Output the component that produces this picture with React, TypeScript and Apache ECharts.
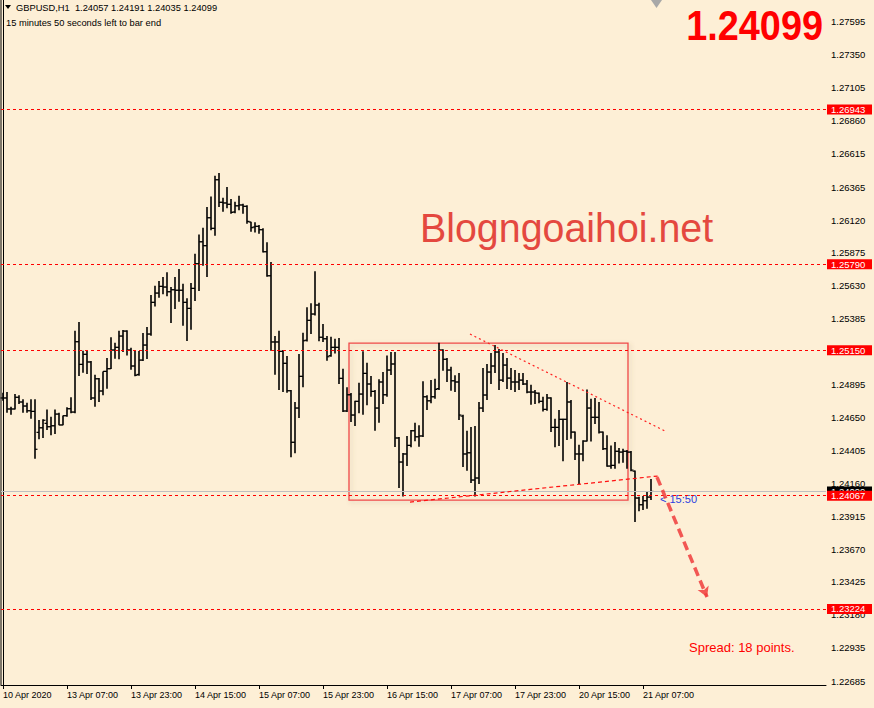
import React, { useEffect, useRef } from "react";
import * as echarts from "echarts";

const opens = [1.24795,1.24795,1.24713,1.24713,1.24800,1.24765,1.24735,1.24700,1.24695,1.24539,1.24573,1.24606,1.24581,1.24588,1.24675,1.24594,1.24663,1.24715,1.24690,1.25214,1.25045,1.25120,1.25063,1.24795,1.24938,1.24847,1.24993,1.25013,1.25152,1.25172,1.25256,1.25293,1.25152,1.25033,1.24970,1.25077,1.25189,1.25271,1.25507,1.25576,1.25626,1.25621,1.25586,1.25601,1.25597,1.25597,1.25507,1.25462,1.25611,1.25795,1.25958,1.25929,1.26137,1.26058,1.26420,1.26252,1.26247,1.26237,1.26180,1.26226,1.26232,1.26222,1.26105,1.26068,1.26073,1.26048,1.25884,1.25705,1.25212,1.25212,1.25142,1.25053,1.24849,1.24465,1.24720,1.24956,1.25225,1.25373,1.25420,1.25487,1.25247,1.25236,1.25110,1.25172,1.25172,1.24941,1.24698,1.24819,1.24668,1.24770,1.24824,1.24978,1.24899,1.24844,1.24720,1.24914,1.24819,1.25003,1.25048,1.24497,1.24318,1.24378,1.24442,1.24551,1.24506,1.24512,1.24804,1.24774,1.24804,1.24865,1.25152,1.25083,1.25003,1.24923,1.24914,1.24660,1.24378,1.24387,1.24184,1.24199,1.24720,1.24817,1.24988,1.25033,1.25137,1.24928,1.25040,1.24943,1.24914,1.24914,1.24928,1.24899,1.24839,1.24839,1.24830,1.24770,1.24710,1.24795,1.24576,1.24576,1.24636,1.24636,1.24765,1.24541,1.24378,1.24378,1.24474,1.24720,1.24651,1.24651,1.24541,1.24417,1.24288,1.24293,1.24398,1.24392,1.24398,1.24392,1.24250,1.24050,1.24000,1.24030,1.24057];
const highs = [1.24834,1.24839,1.24730,1.24824,1.24815,1.24785,1.24760,1.24785,1.24785,1.24631,1.24636,1.24710,1.24655,1.24710,1.24685,1.24665,1.24725,1.24800,1.25296,1.25360,1.25147,1.25152,1.25070,1.24968,1.24943,1.24993,1.25092,1.25247,1.25206,1.25296,1.25301,1.25300,1.25169,1.25145,1.25145,1.25279,1.25323,1.25562,1.25631,1.25666,1.25696,1.25731,1.25621,1.25696,1.25755,1.25646,1.25537,1.25651,1.25869,1.26013,1.26063,1.26217,1.26296,1.26450,1.26470,1.26286,1.26366,1.26276,1.26256,1.26301,1.26241,1.26230,1.26107,1.26103,1.26083,1.26058,1.25954,1.25807,1.25256,1.25296,1.25152,1.25107,1.24854,1.24765,1.25122,1.25281,1.25470,1.25500,1.25738,1.25504,1.25346,1.25256,1.25251,1.25236,1.25241,1.25013,1.24874,1.24832,1.24774,1.24908,1.25142,1.25057,1.24958,1.24854,1.24934,1.24988,1.25112,1.25137,1.25137,1.24504,1.24385,1.24512,1.24556,1.24611,1.24591,1.24919,1.24815,1.24928,1.24938,1.25206,1.25157,1.25092,1.25028,1.24964,1.24981,1.24670,1.24551,1.24579,1.24586,1.24765,1.25018,1.25048,1.25130,1.25189,1.25159,1.25130,1.25092,1.25018,1.25003,1.24981,1.24981,1.24928,1.24894,1.24854,1.24835,1.24804,1.24824,1.24800,1.24640,1.24705,1.24640,1.24914,1.24780,1.24545,1.24447,1.24480,1.24859,1.24789,1.24795,1.24765,1.24545,1.24517,1.24442,1.24467,1.24422,1.24417,1.24407,1.24400,1.24255,1.24060,1.24065,1.24095,1.24191];
const lows = [1.24774,1.24685,1.24670,1.24710,1.24750,1.24685,1.24685,1.24640,1.24343,1.24487,1.24497,1.24556,1.24517,1.24526,1.24591,1.24591,1.24655,1.24681,1.24681,1.24958,1.24983,1.24973,1.24780,1.24730,1.24765,1.24815,1.24864,1.25010,1.25087,1.25083,1.25137,1.25112,1.25005,1.24956,1.24960,1.25070,1.25085,1.25258,1.25477,1.25541,1.25567,1.25552,1.25353,1.25457,1.25512,1.25333,1.25219,1.25303,1.25517,1.25591,1.25780,1.25696,1.26043,1.26003,1.26217,1.26182,1.26207,1.26167,1.26170,1.26192,1.26167,1.26092,1.26033,1.26028,1.26018,1.25879,1.25698,1.25147,1.24968,1.24854,1.24839,1.24834,1.24353,1.24383,1.24646,1.24874,1.25215,1.25271,1.25410,1.25217,1.25212,1.25072,1.25102,1.25127,1.24899,1.24690,1.24690,1.24616,1.24586,1.24681,1.24670,1.24740,1.24804,1.24551,1.24611,1.24750,1.24804,1.24966,1.24430,1.24124,1.24061,1.24288,1.24428,1.24472,1.24432,1.24505,1.24705,1.24755,1.24789,1.24855,1.24998,1.24914,1.24849,1.24839,1.24631,1.24281,1.24253,1.24162,1.24061,1.24154,1.24690,1.24780,1.24899,1.24981,1.24854,1.24914,1.24862,1.24854,1.24839,1.24854,1.24891,1.24830,1.24745,1.24750,1.24755,1.24695,1.24700,1.24541,1.24428,1.24437,1.24323,1.24482,1.24492,1.24333,1.24154,1.24323,1.24470,1.24470,1.24601,1.24530,1.24407,1.24283,1.24268,1.24268,1.24308,1.24313,1.24268,1.24250,1.23871,1.23951,1.23961,1.23970,1.24035];
const closes = [1.24795,1.24713,1.24713,1.24800,1.24765,1.24735,1.24700,1.24695,1.24413,1.24573,1.24629,1.24581,1.24588,1.24675,1.24594,1.24663,1.24715,1.24690,1.25214,1.25045,1.25120,1.25063,1.24795,1.24938,1.24847,1.24993,1.25013,1.25152,1.25172,1.25256,1.25293,1.25152,1.25033,1.24964,1.25077,1.25189,1.25271,1.25507,1.25576,1.25626,1.25621,1.25586,1.25601,1.25597,1.25597,1.25507,1.25462,1.25611,1.25795,1.25958,1.25929,1.26137,1.26058,1.26420,1.26252,1.26247,1.26237,1.26177,1.26226,1.26232,1.26222,1.26110,1.26063,1.26073,1.26048,1.25884,1.25705,1.25212,1.25212,1.25142,1.25053,1.24849,1.24465,1.24720,1.24956,1.25221,1.25373,1.25420,1.25487,1.25247,1.25236,1.25102,1.25172,1.25172,1.24941,1.24698,1.24819,1.24668,1.24770,1.24824,1.24978,1.24899,1.24844,1.24720,1.24914,1.24819,1.25003,1.25048,1.24497,1.24318,1.24378,1.24442,1.24551,1.24506,1.24512,1.24804,1.24774,1.24804,1.24859,1.25152,1.25083,1.25003,1.24923,1.24914,1.24668,1.24378,1.24387,1.24184,1.24199,1.24720,1.24817,1.24988,1.25033,1.25137,1.24928,1.25040,1.24943,1.24914,1.24914,1.24928,1.24899,1.24839,1.24839,1.24832,1.24770,1.24710,1.24795,1.24576,1.24576,1.24636,1.24636,1.24765,1.24541,1.24378,1.24378,1.24474,1.24720,1.24651,1.24651,1.24541,1.24417,1.24288,1.24293,1.24398,1.24392,1.24398,1.24392,1.24258,1.24050,1.24000,1.24030,1.24057,1.24099];

const timeLabels = ["10 Apr 2020","13 Apr 07:00","13 Apr 23:00","14 Apr 15:00","15 Apr 07:00","15 Apr 23:00","16 Apr 15:00","17 Apr 07:00","17 Apr 23:00","20 Apr 15:00","21 Apr 07:00"];
const timeLabelIndex = [0,16,32,48,64,80,96,112,128,144,160];
const priceTicks = [1.27595,1.27350,1.27105,1.26860,1.26615,1.26365,1.26120,1.25875,1.25630,1.25385,1.25140,1.24895,1.24650,1.24405,1.24160,1.23915,1.23670,1.23425,1.23180,1.22935,1.22685];
const levels = [1.26943,1.25790,1.25150,1.24067,1.23224];
const bid = 1.24099;
// annotation anchors (bar index, price)
const boxCorners = [[86.5,1.25204],[156.25,1.24035]];
const upperTrend = [[116.75,1.25271],[165.5,1.24549]];
const lowerTrend = [[101.75,1.24020],[163.75,1.24214]];
const arrowPath = [[163.5,1.24206],[176,1.23313]];

const BG = "#fdefd6";
const FONT = "'Liberation Sans', Arial, sans-serif";
const Y_MIN = 1.226578;
const Y_MAX = 1.277583;
const X_MIN = -0.5;
const X_MAX = 205.75;

export default function App() {
  const ref = useRef<HTMLDivElement>(null);
  useEffect(() => {
    document.body.style.margin = "0";
    const chart = echarts.init(ref.current!, null, { renderer: "svg" });
    const data = opens.map((o, i) => [i, o, highs[i], lows[i], closes[i]]);
    const priceLabel = (bg: string, v: number) => ({
      show: true,
      position: "end",
      distance: 1,
      formatter: v.toFixed(5),
      color: "#fff",
      backgroundColor: bg,
      padding: [0, 4, 0, 4],
      fontSize: 9.5,
      lineHeight: 10,
      width: 37,
      fontFamily: FONT,
    });
    const hLine = (v: number, lineStyle: any, bg: string) => [
      { coord: [X_MIN, v], lineStyle, label: priceLabel(bg, v) },
      { coord: [X_MAX, v] },
    ];
    // short price-scale tick marks just right of the axis line
    const yTicks = priceTicks.map((v) => [
      { coord: [X_MAX, v], lineStyle: { color: "#000", type: "solid", width: 1 }, label: { show: false } },
      { coord: [X_MAX + 0.8, v] },
    ]);
    const option: any = {
      animation: false,
      backgroundColor: BG,
      grid: { left: 1, right: 48, top: 0, bottom: 23 },
      xAxis: {
        type: "value",
        min: X_MIN,
        max: X_MAX,
        splitLine: { show: false },
        axisLine: { show: true, onZero: false, lineStyle: { color: "#000", width: 1 } },
        axisTick: { show: true, customValues: timeLabelIndex, length: 4, lineStyle: { color: "#000" } },
        axisLabel: {
          customValues: timeLabelIndex,
          formatter: (v: number) => timeLabels[timeLabelIndex.indexOf(Math.round(v))] || "",
          align: "left",
          margin: 5,
          fontSize: 9,
          color: "#000",
          fontFamily: FONT,
        },
      },
      yAxis: {
        type: "value",
        position: "right",
        min: Y_MIN,
        max: Y_MAX,
        splitLine: { show: false },
        axisLine: { show: true, lineStyle: { color: "#000" } },
        axisTick: { show: false },
        axisLabel: {
          customValues: priceTicks,
          formatter: (v: number) => v.toFixed(5),
          margin: 5,
          fontSize: 9.5,
          color: "#000",
          fontFamily: FONT,
        },
      },
      series: [
        {
          type: "custom",
          data,
          encode: { x: 0, y: [1, 2, 3, 4] },
          renderItem: (params: any, api: any) => {
            const i = api.value(0);
            const po = api.coord([i, api.value(1)]);
            const yh = api.coord([i, api.value(2)])[1];
            const yl = api.coord([i, api.value(3)])[1];
            const yc = api.coord([i, api.value(4)])[1];
            const x = po[0];
            const yo = po[1];
            return {
              type: "group",
              children: [
                { type: "line", shape: { x1: x, y1: yh, x2: x, y2: yl }, style: { stroke: "#000", lineWidth: 1.6 } },
                { type: "line", shape: { x1: x - 2.5, y1: yo, x2: x, y2: yo }, style: { stroke: "#000", lineWidth: 1.2 } },
                { type: "line", shape: { x1: x, y1: yc, x2: x + 2.5, y2: yc }, style: { stroke: "#000", lineWidth: 1.2 } },
              ],
            };
          },
          markArea: {
            silent: true,
            label: { show: false },
            data: [
              [
                { coord: boxCorners[0], itemStyle: { color: "rgba(0,0,0,0)", borderColor: "#f04848", borderWidth: 1.3, shadowColor: "rgba(120,90,60,0.25)", shadowBlur: 4, shadowOffsetX: 2, shadowOffsetY: 2 } },
                { coord: boxCorners[1] },
              ],
            ],
          },
          markLine: {
            silent: true,
            symbol: ["none", "none"],
            data: [
              ...yTicks,
              hLine(bid, { color: "#c0c0c0", type: "solid", width: 1 }, "#000"),
              ...levels.map((v) => hLine(v, { color: "#ff0000", type: [3, 3], width: 1 }, "#ff0000")),
              [
                { coord: upperTrend[0], lineStyle: { color: "#ff2020", type: [2, 3], width: 1.2 }, label: { show: false } },
                { coord: upperTrend[1] },
              ],
              [
                { coord: lowerTrend[0], lineStyle: { color: "#ff1010", type: [4, 3], width: 1.2 }, label: { show: false } },
                { coord: lowerTrend[1] },
              ],
              [
                { coord: arrowPath[0], lineStyle: { color: "rgba(240,60,60,0.85)", type: [9, 5], width: 3.5 }, label: { show: false } },
                { coord: arrowPath[1], symbol: "arrow", symbolSize: [9, 10] },
              ],
            ],
          },
        },
      ],
      graphic: [
        { type: "line", shape: { x1: 1, y1: 0, x2: 1, y2: 685 }, style: { stroke: "#000", lineWidth: 1 } },
        { type: "polygon", shape: { points: [[651, 0], [662, 0], [656.5, 8]] }, style: { fill: "#a8a8a8" } },
        { type: "polygon", shape: { points: [[5, 5], [11, 5], [8, 9]] }, style: { fill: "#000" } },
        { type: "text", x: 16, y: 7.5, style: { text: "GBPUSD,H1  1.24057 1.24191 1.24035 1.24099", font: `9.3px ${FONT}`, fill: "#000", verticalAlign: "middle" } },
        { type: "text", x: 6, y: 23, style: { text: "15 minutes 50 seconds left to bar end", font: `9.3px ${FONT}`, fill: "#000", verticalAlign: "middle" } },
        { type: "text", x: 823, y: 25, scaleX: 0.88, style: { text: "1.24099", font: `bold 43px ${FONT}`, fill: "#ff0000", align: "right", verticalAlign: "middle" } },
        { type: "text", x: 420, y: 228, scaleX: 0.96, style: { text: "Blogngoaihoi.net", font: `41px ${FONT}`, fill: "#e4483f", verticalAlign: "middle" } },
        { type: "text", x: 689, y: 647, style: { text: "Spread: 18 points.", font: `13px ${FONT}`, fill: "#ff0000", verticalAlign: "middle" } },
        { type: "text", x: 660, y: 499, style: { text: "< 15:50", font: `11px ${FONT}`, fill: "#2a3fe0", verticalAlign: "middle" } },
      ],
    };
    chart.setOption(option);
    return () => chart.dispose();
  }, []);
  return <div ref={ref} style={{ position: "absolute", left: 0, top: 0, width: 874, height: 708, background: BG }} />;
}
